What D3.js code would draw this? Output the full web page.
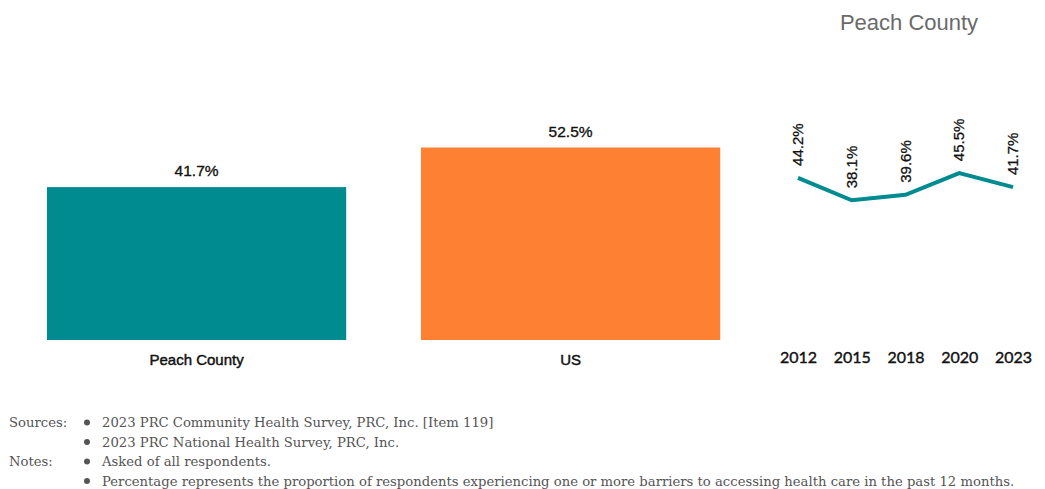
<!DOCTYPE html>
<html>
<head>
<meta charset="utf-8">
<script src="https://d3js.org/d3.v7.min.js"></script>
<style>
  body { margin: 0; background: #fff; }
</style>
<title>Barriers to access</title>
</head>
<body>
<svg width="1045" height="489"></svg>
<script>
// data
var categories = ["Peach County", "US"];
var barValues = [41.7, 52.5];
var barColors = ["#008b90", "#fe8033"];
var years = ["2012", "2015", "2018", "2020", "2023"];
var trendValues = [44.2, 38.1, 39.6, 45.5, 41.7];
var trendTitle = "Peach County";
var sources = ["2023 PRC Community Health Survey, PRC, Inc. [Item 119]",
               "2023 PRC National Health Survey, PRC, Inc."];
var notes = ["Asked of all respondents.",
             "Percentage represents the proportion of respondents experiencing one or more barriers to accessing health care in the past 12 months."];

var svg = d3.select("svg");
var sans = "'Liberation Sans', Arial, sans-serif";

// shared value scale
var y = d3.scaleLinear().domain([0, 60]).range([340, 120]);

// bar chart
var x = d3.scaleBand().domain(categories).range([9.6, 757.6])
  .paddingInner(0.2).paddingOuter(0.1);

svg.selectAll("rect.bar").data(barValues).enter().append("rect")
  .attr("class", "bar")
  .attr("x", function(d, i) { return x(categories[i]); })
  .attr("y", function(d) { return y(d); })
  .attr("width", x.bandwidth())
  .attr("height", function(d) { return y(0) - y(d); })
  .attr("fill", function(d, i) { return barColors[i]; });

svg.selectAll("text.val").data(barValues).enter().append("text")
  .attr("x", function(d, i) { return x(categories[i]) + x.bandwidth() / 2; })
  .attr("y", function(d) { return y(d) - 11; })
  .attr("text-anchor", "middle")
  .attr("font-family", sans).attr("font-size", "15.5px").attr("fill", "#111")
  .attr("stroke", "#111").attr("stroke-width", 0.35)
  .text(function(d) { return d.toFixed(1) + "%"; });

var xAxis = svg.append("g").attr("transform", "translate(0,340)")
  .call(d3.axisBottom(x).tickSize(0).tickPadding(14));
xAxis.select(".domain").remove();
xAxis.selectAll("text").attr("font-family", sans).attr("font-size", "15px")
  .attr("fill", "#111").attr("stroke", "#111").attr("stroke-width", 0.45).attr("dy", "0.71em");

// trend line
var xt = d3.scalePoint().domain(years).range([798, 1013]);

svg.append("path")
  .datum(trendValues)
  .attr("fill", "none").attr("stroke", barColors[0]).attr("stroke-width", 4)
  .attr("d", d3.line().x(function(d, i) { return xt(years[i]); }).y(function(d) { return y(d); }));

svg.selectAll("text.tv").data(trendValues).enter().append("text")
  .attr("transform", function(d, i) {
    return "translate(" + (xt(years[i]) + 5) + "," + (y(d) - 12) + ") rotate(-90)";
  })
  .attr("font-family", sans).attr("font-size", "15px").attr("fill", "#111")
  .attr("stroke", "#111").attr("stroke-width", 0.3)
  .text(function(d) { return d.toFixed(1) + "%"; });

var tAxis = svg.append("g").attr("transform", "translate(0,340)")
  .call(d3.axisBottom(xt).tickSize(0).tickPadding(12));
tAxis.select(".domain").remove();
tAxis.selectAll("text").attr("font-family", "Lato, sans-serif").attr("font-size", "16px")
  .attr("fill", "#111").attr("stroke", "#111").attr("stroke-width", 0.4).attr("dy", "0.71em");

svg.append("text")
  .attr("x", 909).attr("y", 30).attr("text-anchor", "middle")
  .attr("font-family", sans).attr("font-size", "22px").attr("fill", "#6a6a6a")
  .text(trendTitle);

// footnotes
var serif = "'DejaVu Serif', 'Liberation Serif', serif";
var foot = svg.append("g").attr("font-family", serif).attr("font-size", "13.2px").attr("fill", "#555");
var rows = [];
sources.forEach(function(s, i) { rows.push({ head: i === 0 ? "Sources:" : "", text: s }); });
notes.forEach(function(s, i) { rows.push({ head: i === 0 ? "Notes:" : "", text: s }); });
rows.forEach(function(r, i) {
  var yy = 427 + i * 19.5;
  if (r.head) foot.append("text").attr("x", 9).attr("y", yy).text(r.head);
  foot.append("circle").attr("cx", 87).attr("cy", yy - 4.5).attr("r", 3).attr("fill", "#555");
  foot.append("text").attr("x", 102).attr("y", yy).text(r.text);
});
</script>
</body>
</html>
